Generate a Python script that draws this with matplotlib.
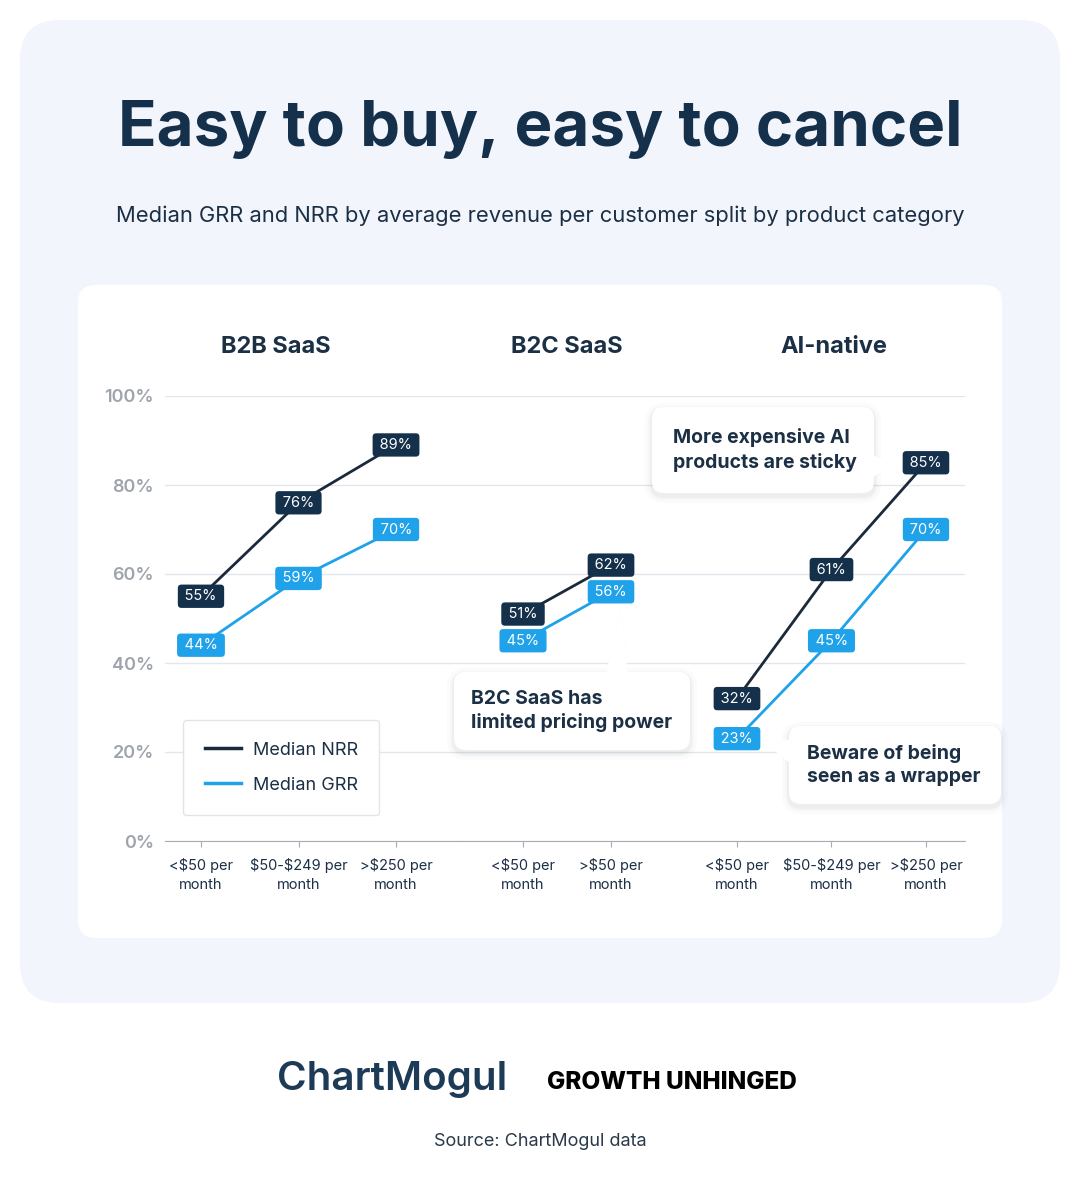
import matplotlib
matplotlib.use('Agg')
import matplotlib.pyplot as plt
from matplotlib.patches import FancyBboxPatch, Polygon

plt.rcParams['font.family'] = ['Inter', 'DejaVu Sans']

# --- data ---
groups = ['B2B SaaS', 'B2C SaaS', 'AI-native']
b2b_cats = ['<$50 per\nmonth', '$50-$249 per\nmonth', '>$250 per\nmonth']
b2c_cats = ['<$50 per\nmonth', '>$50 per\nmonth']
ai_cats = ['<$50 per\nmonth', '$50-$249 per\nmonth', '>$250 per\nmonth']
b2b_nrr = [55, 76, 89]
b2b_grr = [44, 59, 70]
b2c_nrr = [51, 62]
b2c_grr = [45, 56]
ai_nrr = [32, 61, 85]
ai_grr = [23, 45, 70]
yticks = [0, 20, 40, 60, 80, 100]

# --- style ---
NAVY = '#15304B'
NRR_LINE = '#1A2A3A'
BLUE = '#1FA2EA'
TEXT = '#1B2F45'
GRID = '#E3E6EC'
GRAY = '#9EA4AC'
PANEL = '#F3F5FC'

W, H = 1080, 1201
fig = plt.figure(figsize=(W / 100, H / 100), dpi=100)
fig.patch.set_facecolor('white')

# background layer in pixel coordinates
bg = fig.add_axes([0, 0, 1, 1], zorder=-10)
bg.set_xlim(0, W)
bg.set_ylim(H, 0)
bg.axis('off')
bg.add_patch(FancyBboxPatch((20, 20), 1040, 983, boxstyle='round,pad=0,rounding_size=40',
                            fc=PANEL, ec='none'))
bg.add_patch(FancyBboxPatch((78, 285), 924, 653, boxstyle='round,pad=0,rounding_size=18',
                            fc='white', ec='none'))

bg.text(540, 146, 'Easy to buy, easy to cancel', ha='center', va='baseline',
        fontsize=45.8, fontweight='bold', color=NAVY)
bg.text(540, 222, 'Median GRR and NRR by average revenue per customer split by product category',
        ha='center', va='baseline', fontsize=15.8, color=TEXT)

# panel titles
for x, g in zip([276, 567, 834], groups):
    bg.text(x, 353, g, ha='center', va='baseline', fontsize=17, fontweight='bold', color=TEXT)

# footer
bg.text(392, 1090, 'ChartMogul', ha='center', va='baseline', fontsize=29,
        fontweight='semibold', color='#1D3A57')
bg.text(672, 1089, 'GROWTH UNHINGED', ha='center', va='baseline', fontsize=17.5,
        fontweight='heavy', color='black')
bg.text(540, 1146, 'Source: ChartMogul data', ha='center', va='baseline', fontsize=13,
        color='#2A3A4A')

# --- chart axes, one per product category ---
bottom, height = (H - 841) / H, 445 / H
specs = [
    (165, 460, (-0.369, 2.656), b2b_cats, b2b_nrr, b2b_grr),
    (460, 680, (-0.716, 1.784), b2c_cats, b2c_nrr, b2c_grr),
    (680, 965, (-0.603, 2.413), ai_cats, ai_nrr, ai_grr),
]

axes = []
for i, (x0, x1, xl, cats, nrr, grr) in enumerate(specs):
    ax = fig.add_axes([x0 / W, bottom, (x1 - x0) / W, height])
    ax.patch.set_visible(False)
    x = list(range(len(cats)))
    ax.plot(x, nrr, color=NRR_LINE, lw=2, zorder=3, label='Median NRR')
    ax.plot(x, grr, color=BLUE, lw=2, zorder=3, label='Median GRR')
    for vals, fc in [(nrr, NAVY), (grr, BLUE)]:
        for xi, v in zip(x, vals):
            ax.text(xi, v, f'\u2009{v}%\u2009', ha='center', va='center', color='white',
                    fontsize=10.5, zorder=5,
                    bbox=dict(boxstyle='round,pad=0.32,rounding_size=0.25', fc=fc, ec='none'))
    ax.set_xlim(*xl)
    ax.set_ylim(0, 100)
    ax.set_yticks(yticks)
    ax.set_yticklabels([f'{t}%' for t in yticks])
    ax.grid(axis='y', color=GRID, lw=1)
    ax.set_axisbelow(True)
    for s in ['top', 'right', 'left']:
        ax.spines[s].set_visible(False)
    ax.spines['bottom'].set_color('#A8ADB5')
    ax.set_xticks(x)
    ax.set_xticklabels([c.replace('$', r'\$') for c in cats], linespacing=1.5)
    ax.tick_params(axis='x', length=4, color='#A8ADB5', labelsize=10.5, labelcolor=TEXT, pad=8)
    ax.tick_params(axis='y', length=0, labelsize=13, labelcolor=GRAY, pad=8)
    for lab in ax.get_yticklabels():
        lab.set_fontweight('semibold')
    if i > 0:
        ax.tick_params(axis='y', labelleft=False)
    axes.append(ax)

handles = axes[0].get_lines()
leg = fig.legend(handles=handles, labels=['Median NRR', 'Median GRR'],
                 loc='upper left', bbox_to_anchor=(183 / W, 1 - 720 / H),
                 fontsize=13, frameon=True, fancybox=True, framealpha=1,
                 edgecolor='#E2E4E9', borderpad=1.2, labelspacing=1.0,
                 handlelength=2.0, handletextpad=0.65, borderaxespad=0)
for t in leg.get_texts():
    t.set_color(TEXT)
for h in leg.get_lines():
    h.set_linewidth(2.5)

# --- callouts on top ---
fg = fig.add_axes([0, 0, 1, 1], zorder=10)
fg.set_xlim(0, W)
fg.set_ylim(H, 0)
fg.axis('off')
fg.patch.set_visible(False)


def callout(box, tri, text, tx):
    x0, y0, x1, y1 = box
    for k, a in [(7, 0.015), (4, 0.025), (2, 0.035)]:
        fg.add_patch(FancyBboxPatch((x0 - k, y0 - k + 3), x1 - x0 + 2 * k, y1 - y0 + 2 * k,
                                    boxstyle=f'round,pad=0,rounding_size={12 + k}',
                                    fc='#1B2A3A', ec='none', alpha=a))
    fg.add_patch(Polygon(tri, closed=True, fc='#1B2A3A', ec='none', alpha=0.04))
    fg.add_patch(FancyBboxPatch((x0, y0), x1 - x0, y1 - y0,
                                boxstyle='round,pad=0,rounding_size=12', fc='white', ec='none'))
    fg.add_patch(Polygon(tri, closed=True, fc='white', ec='none'))
    fg.text(tx, (y0 + y1) / 2, text, ha='left', va='center', fontsize=14,
            fontweight='bold', color=TEXT, linespacing=1.35)


callout((652, 407, 874, 493), [(872, 454), (892, 465), (872, 478)],
        'More expensive AI\nproducts are sticky', 673)
callout((454, 672, 690, 750), [(606, 674), (621, 606), (628, 674)],
        'B2C SaaS has\nlimited pricing power', 471)
callout((789, 726, 1001, 804), [(791, 739), (766, 744), (791, 764)],
        'Beware of being\nseen as a wrapper', 807)

fig.savefig('out.png', dpi=100, facecolor='white')
